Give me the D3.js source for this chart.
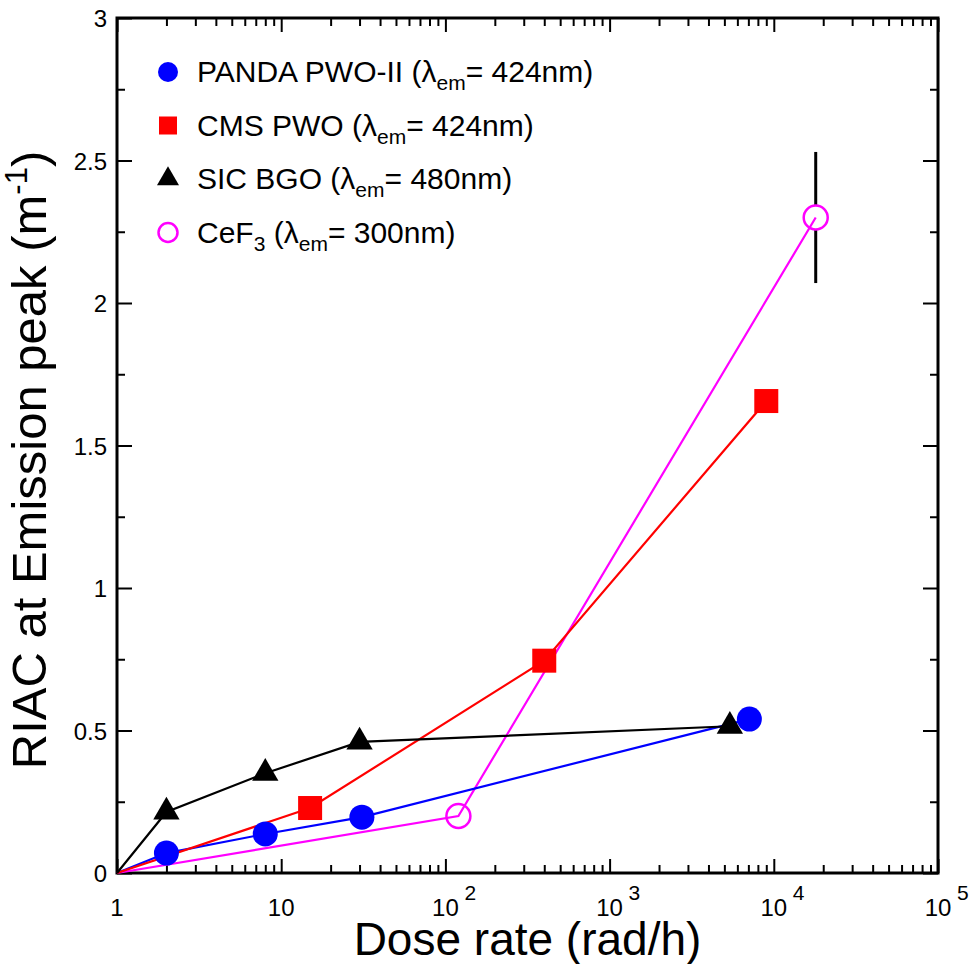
<!DOCTYPE html>
<html>
<head>
<meta charset="utf-8">
<script src="https://cdn.jsdelivr.net/npm/d3@7"></script>
<style>
  html, body { margin: 0; padding: 0; background: #fff; }
  svg { display: block; font-family: "Liberation Sans", Arial, sans-serif; }
</style>
</head>
<body>
<svg id="chart" width="969" height="964"></svg>
<script>
// ── data ─────────────────────────────────────────────────────────
var pandaDose = [1, 2, 8, 31, 7100];
var pandaRiac = [0, 0.07, 0.137, 0.196, 0.54];

var cmsDose = [1, 15, 400, 9000];
var cmsRiac = [0, 0.228, 0.745, 1.656];

var bgoDose = [1, 2, 8, 30, 5400];
var bgoRiac = [0, 0.214, 0.35, 0.46, 0.515];

var cefDose = [1, 120, 18000];
var cefRiac = [0, 0.2, 2.3];
var cefErr = [0, 0, 0.23];

var xDecades = [1, 10, 100, 1000, 10000, 100000];
var xExponents = [null, null, 2, 3, 4, 5];
var yMajor = [0, 0.5, 1, 1.5, 2, 2.5, 3];
var yMinor = [0.25, 0.75, 1.25, 1.75, 2.25, 2.75];

// ── layout ───────────────────────────────────────────────────────
var svg = d3.select('#chart');
var pLeft = 117, pRight = 938, pTop = 18, pBottom = 873;

var x = d3.scaleLog().domain([1, 1e5]).range([pLeft, pRight]);
var y = d3.scaleLinear().domain([0, 3]).range([pBottom, pTop]);

var xMinor = [];
xDecades.slice(0, -1).forEach(function(d) {
  for (var k = 2; k <= 9; k++) xMinor.push(d * k);
});

function zip(a, b) { return a.map(function(v, i) { return [v, b[i]]; }); }

// ── axes (ticks inward on all four sides) ────────────────────────
function tickAxis(axis, vals, size, transform) {
  var g = svg.append('g').attr('transform', transform)
    .call(axis.tickValues(vals).tickSize(size).tickFormat(''));
  g.select('.domain').remove();
  g.selectAll('.tick line').attr('stroke', '#000').attr('stroke-width', 2);
}
tickAxis(d3.axisBottom(x), xDecades, -14, 'translate(0,' + pBottom + ')');
tickAxis(d3.axisBottom(x), xMinor, -8, 'translate(0,' + pBottom + ')');
tickAxis(d3.axisTop(x), xDecades, -14, 'translate(0,' + pTop + ')');
tickAxis(d3.axisTop(x), xMinor, -8, 'translate(0,' + pTop + ')');
tickAxis(d3.axisLeft(y), yMajor, -15, 'translate(' + pLeft + ',0)');
tickAxis(d3.axisLeft(y), yMinor, -8, 'translate(' + pLeft + ',0)');
tickAxis(d3.axisRight(y), yMajor, -15, 'translate(' + pRight + ',0)');
tickAxis(d3.axisRight(y), yMinor, -8, 'translate(' + pRight + ',0)');

svg.append('rect')
  .attr('x', pLeft).attr('y', pTop)
  .attr('width', pRight - pLeft).attr('height', pBottom - pTop)
  .attr('fill', 'none').attr('stroke', '#000').attr('stroke-width', 3);

// tick labels
svg.append('g').selectAll('text').data(yMajor).join('text')
  .attr('x', pLeft - 10).attr('y', function(d) { return y(d) + 9; })
  .attr('text-anchor', 'end').attr('font-size', 24)
  .text(function(d) { return d; });

var xl = svg.append('g').selectAll('g').data(xDecades).join('g')
  .attr('transform', function(d) { return 'translate(' + x(d) + ',916)'; });
xl.append('text').attr('text-anchor', 'middle').attr('font-size', 24)
  .text(function(d) { return d < 100 ? d : '10'; });
xl.filter(function(d, i) { return xExponents[i] != null; })
  .append('text').attr('x', 19).attr('y', -16).attr('font-size', 21)
  .text(function(d) { return xExponents[xDecades.indexOf(d)]; });

// axis titles
svg.append('text')
  .attr('x', (pLeft + pRight) / 2).attr('y', 955)
  .attr('text-anchor', 'middle').attr('font-size', 46)
  .text('Dose rate (rad/h)');

var yt = svg.append('text')
  .attr('transform', 'translate(46,460) rotate(-90)')
  .attr('text-anchor', 'middle').attr('font-size', 49);
yt.append('tspan').text('RIAC at Emission peak (m');
yt.append('tspan').attr('font-size', 31).attr('dy', -19).text('-1');
yt.append('tspan').attr('dy', 19).text(')');

// ── series ───────────────────────────────────────────────────────
var line = d3.line()
  .x(function(d) { return x(d[0]); })
  .y(function(d) { return y(d[1]); });

var series = [
  { pts: zip(cefDose, cefRiac), color: '#ff00ff' },
  { pts: zip(pandaDose, pandaRiac), color: '#0000ff' },
  { pts: zip(cmsDose, cmsRiac), color: '#ff0000' },
  { pts: zip(bgoDose, bgoRiac), color: '#000000' }
];
series.forEach(function(s) {
  svg.append('path').datum(s.pts)
    .attr('d', line).attr('fill', 'none')
    .attr('stroke', s.color).attr('stroke-width', 2.2);
});

// error bar on CeF3 (outside the open circle)
var R = 12;
zip(cefDose, cefRiac).forEach(function(d, i) {
  if (!cefErr[i]) return;
  var cx = x(d[0]), cy = y(d[1]);
  svg.append('line').attr('x1', cx).attr('x2', cx)
    .attr('y1', y(d[1] + cefErr[i])).attr('y2', cy - R)
    .attr('stroke', '#000').attr('stroke-width', 3);
  svg.append('line').attr('x1', cx).attr('x2', cx)
    .attr('y1', cy + R).attr('y2', y(d[1] - cefErr[i]))
    .attr('stroke', '#000').attr('stroke-width', 3);
});

var tri = d3.symbol().type(d3.symbolTriangle);

function drawCircles(pts, r, fill) {
  svg.append('g').selectAll('circle').data(pts).join('circle')
    .attr('cx', function(d) { return x(d[0]); })
    .attr('cy', function(d) { return y(d[1]); })
    .attr('r', r)
    .attr('fill', fill ? '#0000ff' : 'none')
    .attr('stroke', fill ? 'none' : '#ff00ff')
    .attr('stroke-width', fill ? 0 : 2.5);
}
drawCircles(zip(pandaDose, pandaRiac).slice(1), 12.5, true);

svg.append('g').selectAll('rect').data(zip(cmsDose, cmsRiac).slice(1)).join('rect')
  .attr('x', function(d) { return x(d[0]) - 12; })
  .attr('y', function(d) { return y(d[1]) - 12; })
  .attr('width', 24).attr('height', 24).attr('fill', '#ff0000');

drawCircles(zip(cefDose, cefRiac).slice(1), R, false);

svg.append('g').selectAll('path').data(zip(bgoDose, bgoRiac).slice(1)).join('path')
  .attr('d', tri.size(300))
  .attr('transform', function(d) { return 'translate(' + x(d[0]) + ',' + y(d[1]) + ')'; })
  .attr('fill', '#000');

// ── legend ───────────────────────────────────────────────────────
var legendRows = [
  { name: 'PANDA PWO-II (', sub: null, wl: '= 424nm)', mark: 'circle' },
  { name: 'CMS PWO (', sub: null, wl: '= 424nm)', mark: 'square' },
  { name: 'SIC BGO (', sub: null, wl: '= 480nm)', mark: 'triangle' },
  { name: 'CeF', sub: '3', wl: '= 300nm)', mark: 'open' }
];
var lg = svg.append('g').selectAll('g').data(legendRows).join('g')
  .attr('transform', function(d, i) { return 'translate(168,' + (72 + i * 53.5) + ')'; });

lg.each(function(d) {
  var g = d3.select(this);
  if (d.mark === 'circle') g.append('circle').attr('r', 10).attr('fill', '#0000ff');
  if (d.mark === 'square') g.append('rect').attr('x', -9).attr('y', -9).attr('width', 18).attr('height', 18).attr('fill', '#ff0000');
  if (d.mark === 'triangle') g.append('path').attr('d', tri.size(210)).attr('fill', '#000');
  if (d.mark === 'open') g.append('circle').attr('r', 9.5).attr('fill', 'none').attr('stroke', '#ff00ff').attr('stroke-width', 2.5);

  var t = g.append('text').attr('x', 29).attr('y', 10).attr('font-size', 30);
  t.append('tspan').text(d.name);
  if (d.sub) {
    t.append('tspan').attr('font-size', 21).attr('dy', 8).text(d.sub);
    t.append('tspan').attr('dy', -8).text(' (');
  }
  t.append('tspan').text('\u03bb');
  t.append('tspan').attr('font-size', 21).attr('dy', 8).text('em');
  t.append('tspan').attr('dy', -8).text(d.wl);
});
</script>
</body>
</html>
